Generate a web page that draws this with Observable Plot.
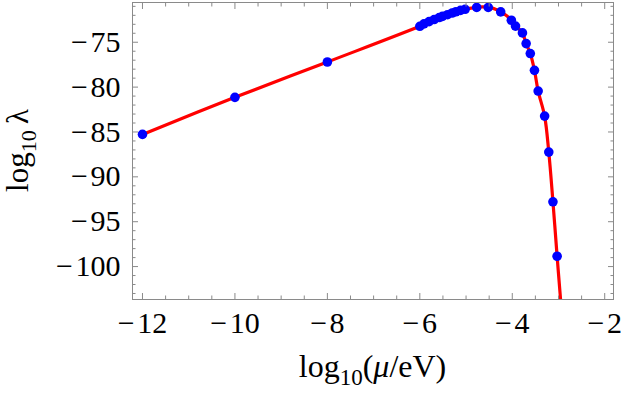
<!DOCTYPE html>
<html><head><meta charset="utf-8">
<script src="https://cdn.jsdelivr.net/npm/d3@7"></script>
<script src="https://cdn.jsdelivr.net/npm/@observablehq/plot@0.6"></script>
<style>
html,body{margin:0;padding:0;background:#fff;}
#chart svg, #chart svg text { font-family: 'Liberation Serif', 'Times New Roman', 'DejaVu Serif', serif !important; }
</style></head><body><div id="chart"></div>
<script>
// data points (log10 mu/eV, log10 lambda)
const dotX = [-12, -10, -8, -6, -5.91, -5.80, -5.69, -5.58, -5.51, -5.40, -5.30, -5.22, -5.12, -5.02, -4.77, -4.52, -4.25, -4.02, -3.93, -3.78, -3.70, -3.61, -3.52, -3.44, -3.30, -3.21, -3.12, -3.03];
const dotY = [-85.27, -81.14, -77.2, -73.22, -72.95, -72.7, -72.47, -72.25, -72.12, -71.93, -71.74, -71.6, -71.45, -71.33, -71.12, -71.12, -71.62, -72.55, -73.2, -73.96, -75.15, -76.26, -78.13, -80.44, -83.23, -87.24, -92.78, -98.85];
// fitted curve
const curveX = [-12, -10, -8, -6, -5.5, -5.2, -5.0, -4.85, -4.65, -4.5, -4.35, -4.25, -4.12, -4.02, -3.93, -3.85, -3.78, -3.70, -3.61, -3.52, -3.44, -3.30, -3.21, -3.12, -3.03, -2.955];
const curveY = [-85.27, -81.14, -77.2, -73.22, -72.1, -71.57, -71.31, -71.17, -71.06, -71.12, -71.35, -71.62, -72.05, -72.55, -73.2, -73.55, -73.96, -75.15, -76.26, -78.13, -80.44, -83.23, -87.24, -92.78, -98.85, -103.67];
// ticks
const xMajor = [-12, -10, -8, -6, -4, -2];
const xMinor = [-11.5, -11, -10.5, -9.5, -9, -8.5, -7.5, -7, -6.5, -5.5, -5, -4.5, -3.5, -3, -2.5];
const yMajor = [-100, -95, -90, -85, -80, -75];
const yMinor = [-103, -102, -101, -99, -98, -97, -96, -94, -93, -92, -91, -89, -88, -87, -86, -84, -83, -82, -81, -79, -78, -77, -76, -74, -73, -72, -71];

const dots = dotX.map((x, i) => ({x, y: dotY[i]}));
const curve = curveX.map((x, i) => ({x, y: curveY[i]}));
const gray = "#8a8a8a";
const fmt = d => d < 0 ? "\u2212\u200A" + Math.abs(d) : String(d);
const serif = "Liberation Serif, Times New Roman, DejaVu Serif, serif";

const plot = Plot.plot({
  width: 625, height: 393,
  marginLeft: 132, marginRight: 12, marginTop: 2, marginBottom: 94,
  x: {domain: [-12.216, -1.81]},
  y: {domain: [-103.67, -70.57]},
  style: {fontFamily: serif, fontSize: "30px", color: "black", background: "white", overflow: "visible"},
  marks: [
    Plot.line(curve, {x: "x", y: "y", stroke: "#ff0000", strokeWidth: 3.2, curve: "catmull-rom", clip: true}),
    Plot.dot(dots, {x: "x", y: "y", r: 4.8, fill: "#0000ff", stroke: "none"}),
    Plot.frame({stroke: gray}),
    Plot.axisX(xMajor, {anchor: "bottom", tickSize: -6, stroke: gray, tickFormat: () => "", label: null}),
    Plot.axisX(xMinor, {anchor: "bottom", tickSize: -3.5, stroke: gray, tickFormat: () => "", label: null}),
    Plot.axisX(xMajor, {anchor: "top", tickSize: -6, stroke: gray, tickFormat: () => "", label: null}),
    Plot.axisX(xMinor, {anchor: "top", tickSize: -3.5, stroke: gray, tickFormat: () => "", label: null}),
    Plot.axisY(yMajor, {anchor: "left", tickSize: -6, stroke: gray, tickFormat: () => "", label: null}),
    Plot.axisY(yMinor, {anchor: "left", tickSize: -3.5, stroke: gray, tickFormat: () => "", label: null}),
    Plot.axisY(yMajor, {anchor: "right", tickSize: -6, stroke: gray, tickFormat: () => "", label: null}),
    Plot.axisY(yMinor, {anchor: "right", tickSize: -3.5, stroke: gray, tickFormat: () => "", label: null}),
    Plot.axisX(xMajor, {anchor: "bottom", tickSize: 0, tickPadding: 12, tickFormat: fmt, label: null, fill: "black", fontSize: 30, fontFamily: serif, fontVariant: "normal"}),
    Plot.axisY(yMajor, {anchor: "left", tickSize: 0, tickPadding: 12, tickFormat: fmt, label: null, fill: "black", fontSize: 30, fontFamily: serif, fontVariant: "normal"})
  ]
});
document.getElementById("chart").appendChild(plot);

// axis titles with subscripts
const svg = d3.select(plot);
const xr = plot.scale("x").range, yr = plot.scale("y").range;
const xc = (xr[0] + xr[1]) / 2, yc = (yr[0] + yr[1]) / 2;
const xt = svg.append("text").attr("x", xc).attr("y", 377).attr("text-anchor", "middle")
  .attr("font-family", serif).attr("font-size", 32).attr("fill", "black");
xt.append("tspan").text("log");
xt.append("tspan").attr("dy", 8).attr("font-size", 23).text("10");
xt.append("tspan").attr("dy", -8).text("(");
xt.append("tspan").attr("font-style", "italic").text("\u03BC");
xt.append("tspan").text("/eV)");

const yt = svg.append("text").attr("transform", `translate(28,${yc}) rotate(-90)`).attr("text-anchor", "middle")
  .attr("font-family", serif).attr("font-size", 31).attr("fill", "black");
yt.append("tspan").text("log");
yt.append("tspan").attr("dy", 8).attr("font-size", 22).text("10");
yt.append("tspan").attr("dy", -8).text("\u2009\u03BB");
</script>
</body></html>
